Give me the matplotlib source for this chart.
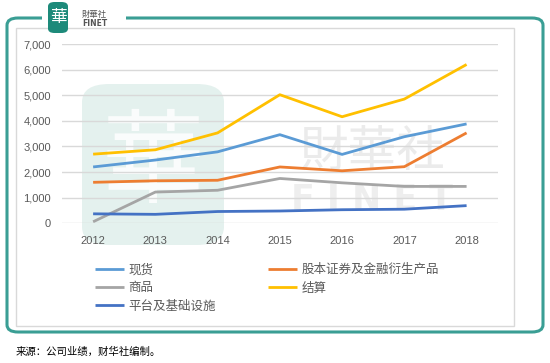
import matplotlib
matplotlib.use('Agg')
import matplotlib.pyplot as plt
from matplotlib.patches import FancyBboxPatch, Rectangle

plt.rcParams['font.family'] = ['Noto Sans CJK SC', 'DejaVu Sans']

years = [2012, 2013, 2014, 2015, 2016, 2017, 2018]
spot = [2200, 2470, 2790, 3460, 2690, 3380, 3880]          # 现货
equity = [1600, 1660, 1680, 2200, 2050, 2210, 3530]        # 股本证券及金融衍生产品
commodity = [60, 1220, 1290, 1750, 1580, 1440, 1440]       # 商品
clearing = [2700, 2870, 3530, 5020, 4160, 4850, 6200]      # 结算
platform = [370, 350, 460, 480, 530, 550, 690]             # 平台及基础设施

names = ['现货', '股本证券及金融衍生产品', '商品', '结算', '平台及基础设施']
series = [spot, equity, commodity, clearing, platform]
colors = ['#5B9BD5', '#ED7D31', '#A5A5A5', '#FFC000', '#4472C4']

W, H = 550, 363
fig = plt.figure(figsize=(W / 100, H / 100), dpi=100)
fig.patch.set_facecolor('white')


def fx(x):
    return x / W


def fy(y):
    return 1 - y / H


# outer teal rounded border and inner gray frame
fig.patches.append(FancyBboxPatch((fx(7), fy(332)), fx(536), (332 - 18) / H,
                                  boxstyle='round,pad=0,rounding_size=0.02',
                                  transform=fig.transFigure, fill=False,
                                  edgecolor='#3a9e94', linewidth=2.2, zorder=-5))
fig.patches.append(Rectangle((fx(16), fy(326)), fx(498), (326 - 28) / H,
                             transform=fig.transFigure, facecolor='white',
                             edgecolor='#d9d9d9', linewidth=1, zorder=-4))
# gap in border behind the logo
fig.patches.append(Rectangle((fx(42), fy(22)), fx(84), 8 / H,
                             transform=fig.transFigure, facecolor='white',
                             edgecolor='none', zorder=-3))

# logo
fig.patches.append(FancyBboxPatch((fx(48), fy(33)), fx(20), 31 / H,
                                  boxstyle='round,pad=0,rounding_size=0.012',
                                  transform=fig.transFigure, facecolor='#1d8a7a',
                                  edgecolor='none', zorder=2))
fig.text(fx(58), fy(17.5), '華', color='white', fontsize=12, ha='center',
         va='center', zorder=3)
fig.text(fx(82), fy(14), '財華社', color='#555555', fontsize=6, ha='left',
         va='center', zorder=3)
fig.text(fx(82), fy(23.5), 'FINET', color='#555555', fontsize=5.5, ha='left',
         va='center', family='DejaVu Sans', fontweight='bold', zorder=3)

# watermark
fig.patches.append(FancyBboxPatch((fx(82), fy(245)), fx(142), (245 - 84) / H,
                                  boxstyle='round,pad=0,rounding_size=0.05',
                                  transform=fig.transFigure, facecolor='#e4f1ee',
                                  edgecolor='none', zorder=-2))
fig.text(fx(153), fy(165), '華', color='white', fontsize=74, ha='center',
         va='center', alpha=0.85, fontweight='light', zorder=-1)
fig.text(fx(372), fy(152), '財華社', color='#ebebeb', fontsize=35, ha='center',
         va='center', zorder=-1)
fig.text(fx(372), fy(200), 'F I N E T', color='#eeeeee', fontsize=25,
         ha='center', va='center', family='DejaVu Sans', fontweight='bold',
         zorder=-1)

ax = fig.add_axes([fx(62), fy(223.3), fx(497.7 - 62), (223.3 - 44) / H])
ax.patch.set_alpha(0)
for i, s in enumerate(series):
    ax.plot(years, s, color=colors[i], linewidth=2.0, label=names[i],
            solid_capstyle='butt', zorder=3)

ax.set_xlim(2011.5, 2018.5)
ax.set_ylim(0, 7000)
ax.set_yticks(range(0, 7001, 1000))
ax.set_yticklabels(['{:,}'.format(v) for v in range(0, 7001, 1000)])
ax.set_xticks(years)
ax.yaxis.grid(True, color='#d9d9d9', linewidth=1)
ax.set_axisbelow(True)
for sp in ax.spines.values():
    sp.set_visible(False)
ax.tick_params(axis='both', length=0, colors='#595959', labelsize=8)
ax.tick_params(axis='y', pad=8)
ax.tick_params(axis='x', pad=9)
for lbl in ax.get_xticklabels() + ax.get_yticklabels():
    lbl.set_family(['Liberation Sans', 'DejaVu Sans'])

handles, labels = ax.get_legend_handles_labels()
order = [0, 2, 4, 1, 3]
leg = fig.legend([handles[i] for i in order], [labels[i] for i in order],
                 ncol=2, loc='upper left', bbox_to_anchor=(fx(89), fy(257)),
                 frameon=False, fontsize=9, handlelength=2.3, handletextpad=0.35,
                 columnspacing=4.2, labelspacing=0.42, borderpad=0)
for t in leg.get_texts():
    t.set_color('#595959')

fig.text(fx(16), fy(352), '来源：公司业绩，财华社编制。', fontsize=7.5,
         color='black', ha='left', va='center')

fig.savefig('out.png', dpi=100)
